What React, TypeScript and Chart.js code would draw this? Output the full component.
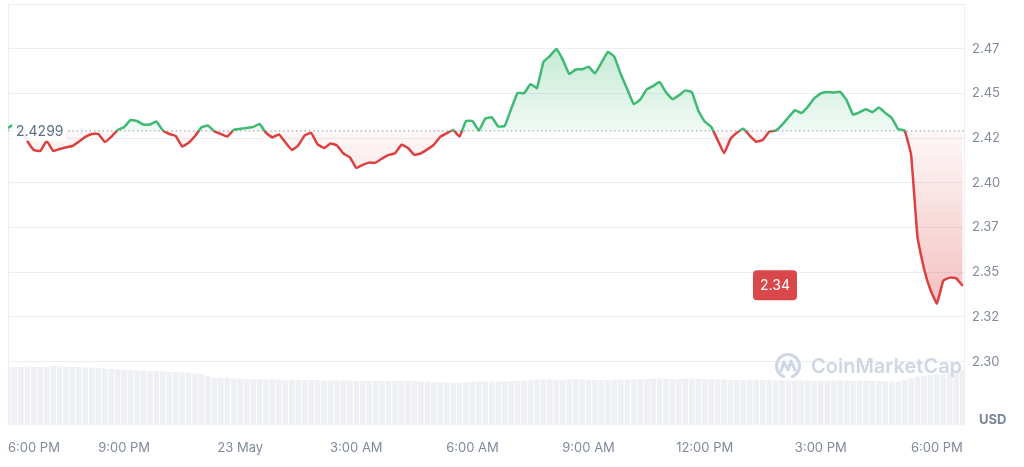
import React, { useEffect, useRef } from 'react';
import { Chart, registerables } from 'chart.js';

Chart.register(...registerables);

// Price samples every 10 minutes starting 6:00 PM (22 May)
const prices = [
  2.4315, 2.4337, 2.4311, 2.4242, 2.4192, 2.4186, 2.4242, 2.4186, 2.4197, 2.4207,
  2.4214, 2.4239, 2.4265, 2.4281, 2.4281, 2.4237, 2.4265, 2.4304, 2.4319, 2.4360,
  2.4354, 2.4334, 2.4334, 2.4351, 2.4301, 2.4281, 2.4270, 2.4211, 2.4232, 2.4270,
  2.4319, 2.4328, 2.4296, 2.4281, 2.4267, 2.4305, 2.4310, 2.4315, 2.4320, 2.4337,
  2.4287, 2.4262, 2.4279, 2.4234, 2.4192, 2.4217, 2.4273, 2.4287, 2.4223, 2.4203,
  2.4228, 2.4217, 2.4172, 2.4150, 2.4091, 2.4109, 2.4121, 2.4121, 2.4144, 2.4164,
  2.4173, 2.4221, 2.4203, 2.4164, 2.4173, 2.4195, 2.4221, 2.4265, 2.4285, 2.4304,
  2.4267, 2.4354, 2.4354, 2.4301, 2.4368, 2.4374, 2.4323, 2.4326, 2.4421, 2.4511,
  2.4509, 2.4560, 2.4538, 2.4684, 2.4717, 2.4756, 2.4697, 2.4617, 2.4642, 2.4643,
  2.4658, 2.4620, 2.4680, 2.4740, 2.4713, 2.4615, 2.4531, 2.4449, 2.4473, 2.4530,
  2.4549, 2.4572, 2.4514, 2.4476, 2.4497, 2.4525, 2.4516, 2.4413, 2.4351, 2.4322,
  2.4248, 2.4174, 2.4253, 2.4288, 2.4311, 2.4271, 2.4238, 2.4248, 2.4294, 2.4300,
  2.4332, 2.4375, 2.4414, 2.4398, 2.4434, 2.4482, 2.4508, 2.4516, 2.4513, 2.4517,
  2.4471, 2.4389, 2.4403, 2.4419, 2.4403, 2.4429, 2.4399, 2.4371, 2.4308, 2.4301,
  2.4164, 2.3700, 2.3528, 2.3409, 2.3334, 2.3462, 2.3478, 2.3474, 2.3432,
];

// 24h volume (millions USD), same timestamps
const volumes = [
  116, 116, 116, 117, 116, 116, 117, 118, 117, 117,
  116, 116, 115, 115, 114, 113, 112, 111, 110, 110,
  109, 109, 108, 108, 107, 106, 106, 105, 105, 103,
  102, 98, 95, 94, 94, 93, 93, 92, 92, 92,
  91, 91, 91, 90, 90, 90, 90, 90, 90, 89,
  89, 89, 89, 89, 88, 88, 88, 88, 88, 88,
  88, 88, 88, 88, 87, 87, 86, 85, 85, 84,
  84, 86, 87, 87, 87, 87, 87, 87, 88, 88,
  89, 90, 91, 91, 91, 90, 90, 91, 92, 91,
  90, 90, 90, 90, 91, 91, 91, 92, 92, 92,
  93, 93, 93, 92, 92, 93, 93, 93, 92, 92,
  91, 91, 90, 90, 90, 91, 90, 90, 90, 89,
  90, 89, 89, 89, 89, 88, 89, 89, 89, 89,
  89, 88, 89, 89, 88, 88, 87, 87, 87, 90,
  94, 97, 99, 100, 102, 103, 103, 108, 110,
];

const sampleStepMinutes = 10;
const pointMinutes = prices.map((_, i) => i * sampleStepMinutes);

const openPrice = 2.4299;
const openPriceLabel = '2.4299';
const lastPriceLabel = '2.34';

const xTickMinutes = [0, 180, 360, 540, 720, 900, 1080, 1260, 1440, 1482];
const xTickLabels = ['6:00 PM', '9:00 PM', '23 May', '3:00 AM', '6:00 AM', '9:00 AM', '12:00 PM', '3:00 PM', '6:00 PM', ''];

const yTickValues = [2.3008, 2.3258, 2.3508, 2.3758, 2.4008, 2.4258, 2.4508, 2.4758, 2.5008];
const yTickLabels = ['2.30', '2.32', '2.35', '2.37', '2.40', '2.42', '2.45', '2.47', ''];

const Y_MIN = 2.2654;
const Y_MAX = 2.5008;
const X_MAX = 1482;

const GREEN = 'rgb(62,186,116)';
const RED = 'rgb(220,64,64)';
const GRID = '#eceef2';
const TICK = '#808a9d';
const FONT = 'Inter, "Noto Sans", sans-serif';

function lineGradient(ctx: any) {
  const chart = ctx.chart;
  const { chartArea, scales } = chart;
  if (!chartArea) return GREEN;
  const base = scales.y.getPixelForValue(openPrice);
  const g = chart.ctx.createLinearGradient(0, chartArea.top, 0, chartArea.bottom);
  const f = Math.min(Math.max((base - chartArea.top) / (chartArea.bottom - chartArea.top), 0), 1);
  g.addColorStop(0, GREEN);
  g.addColorStop(f, GREEN);
  g.addColorStop(f, RED);
  g.addColorStop(1, RED);
  return g;
}

function fillGradient(ctx: any) {
  const chart = ctx.chart;
  const { chartArea, scales } = chart;
  if (!chartArea) return 'rgba(0,0,0,0)';
  const top = scales.y.getPixelForValue(Math.max(...prices));
  const bottom = scales.y.getPixelForValue(Math.min(...prices));
  const base = scales.y.getPixelForValue(openPrice);
  const g = chart.ctx.createLinearGradient(0, top, 0, bottom);
  const f = Math.min(Math.max((base - top) / (bottom - top), 0), 1);
  g.addColorStop(0, 'rgba(62,186,116,0.30)');
  g.addColorStop(f, 'rgba(62,186,116,0.07)');
  g.addColorStop(f, 'rgba(220,64,64,0.04)');
  g.addColorStop(1, 'rgba(220,64,64,0.32)');
  return g;
}

const baselinePlugin = {
  id: 'baselineDots',
  beforeDatasetsDraw(chart: any) {
    const { ctx, chartArea, scales } = chart;
    const y = scales.y.getPixelForValue(openPrice);
    ctx.save();
    ctx.strokeStyle = '#9aa1ae';
    ctx.lineWidth = 1.2;
    ctx.setLineDash([1.3, 3]);
    ctx.beginPath();
    ctx.moveTo(chartArea.left, y);
    ctx.lineTo(chartArea.right, y);
    ctx.stroke();
    ctx.restore();
  },
};

const overlayPlugin = {
  id: 'overlay',
  afterDatasetsDraw(chart: any) {
    const { ctx, chartArea, scales } = chart;
    const yBase = scales.y.getPixelForValue(openPrice);

    // open price label
    ctx.save();
    ctx.fillStyle = 'rgba(255,255,255,0.9)';
    ctx.fillRect(chartArea.left + 4, yBase - 11, 54, 21);
    ctx.fillStyle = '#616e85';
    ctx.font = `14px ${FONT}`;
    ctx.textAlign = 'left';
    ctx.textBaseline = 'middle';
    ctx.fillText(openPriceLabel, chartArea.left + 8, yBase + 0.5);
    ctx.restore();

    // watermark
    ctx.save();
    ctx.strokeStyle = '#cfd6e4';
    ctx.lineWidth = 3;
    ctx.lineCap = 'round';
    ctx.lineJoin = 'round';
    const cx = 788, cy = 366;
    ctx.beginPath();
    ctx.arc(cx, cy, 11.5, Math.PI * 0.62, Math.PI * 2.38);
    ctx.stroke();
    ctx.beginPath();
    ctx.moveTo(cx - 7, cy + 5);
    ctx.lineTo(cx - 4, cy - 4);
    ctx.lineTo(cx, cy + 4);
    ctx.lineTo(cx + 3, cy - 5);
    ctx.lineTo(cx + 7, cy + 4);
    ctx.stroke();
    ctx.fillStyle = '#cfd6e4';
    ctx.font = `600 20px ${FONT}`;
    ctx.textAlign = 'left';
    ctx.textBaseline = 'middle';
    ctx.fillText('CoinMarketCap', 811, cy + 1);
    ctx.restore();

    // last price badge
    const last = prices[prices.length - 1];
    const yLast = scales.y.getPixelForValue(last);
    const bx = 753, bw = 44, bh = 30;
    ctx.save();
    ctx.fillStyle = '#d9474a';
    ctx.beginPath();
    (ctx as any).roundRect(bx, yLast - bh / 2 - 0.5, bw, bh, 4);
    ctx.fill();
    ctx.fillStyle = '#ffffff';
    ctx.font = `14px ${FONT}`;
    ctx.textAlign = 'center';
    ctx.textBaseline = 'middle';
    ctx.fillText(lastPriceLabel, bx + bw / 2, yLast);
    ctx.restore();

    // currency label
    ctx.save();
    ctx.fillStyle = '#7a8497';
    ctx.font = `bold 13px ${FONT}`;
    ctx.textAlign = 'left';
    ctx.textBaseline = 'middle';
    ctx.fillText('USD', chartArea.right + 15, chartArea.bottom - 5);
    ctx.restore();
  },
};

export default function App() {
  const canvasRef = useRef<HTMLCanvasElement | null>(null);

  useEffect(() => {
    const canvas = canvasRef.current;
    if (!canvas) return;
    const chart = new Chart(canvas, {
      type: 'line',
      data: {
        datasets: [
          {
            type: 'line',
            label: 'Price',
            data: prices.map((p, i) => ({ x: pointMinutes[i], y: p })),
            yAxisID: 'y',
            borderColor: lineGradient as any,
            backgroundColor: fillGradient as any,
            borderWidth: 2.5,
            borderJoinStyle: 'round',
            pointRadius: 0,
            tension: 0.1,
            fill: { target: { value: openPrice } } as any,
            order: 0,
          },
          {
            type: 'bar',
            label: 'Volume',
            data: volumes.map((v, i) => ({ x: pointMinutes[i], y: v })),
            yAxisID: 'y2',
            backgroundColor: '#eef0f4',
            barPercentage: 0.88,
            categoryPercentage: 1,
            order: 2,
          } as any,
        ],
      },
      options: {
        animation: false,
        responsive: false,
        devicePixelRatio: 1,
        layout: { padding: { left: 8, top: 4, right: 0, bottom: 0 } },
        plugins: {
          legend: { display: false },
          tooltip: { enabled: false },
        },
        scales: {
          x: {
            type: 'linear',
            min: 0,
            max: X_MAX,
            offset: false,
            position: 'bottom',
            afterBuildTicks: (scale: any) => {
              scale.ticks = xTickMinutes.map((value) => ({ value }));
            },
            afterFit: (scale: any) => {
              scale.height = 42;
              scale.paddingLeft = 0;
              scale.paddingRight = 0;
            },
            grid: {
              display: true,
              offset: false,
              drawTicks: false,
              color: (c: any) => (c.index === 0 ? GRID : 'rgba(0,0,0,0)'),
            },
            border: { display: false },
            ticks: {
              align: 'inner',
              autoSkip: false,
              maxRotation: 0,
              padding: 15,
              color: TICK,
              font: { family: FONT, size: 13 },
              callback: (_v: any, i: number) => xTickLabels[i],
            },
          },
          y: {
            type: 'linear',
            position: 'right',
            min: Y_MIN,
            max: Y_MAX,
            afterBuildTicks: (scale: any) => {
              scale.ticks = yTickValues.map((value) => ({ value }));
            },
            afterFit: (scale: any) => {
              scale.width = 60;
              scale.paddingTop = 0;
              scale.paddingBottom = 0;
            },
            grid: { color: GRID, drawTicks: false },
            border: { display: true, color: GRID },
            ticks: {
              padding: 8,
              color: TICK,
              font: { family: FONT, size: 13 },
              callback: (_v: any, i: number) => yTickLabels[i],
            },
          },
          y2: {
            type: 'linear',
            display: false,
            min: 0,
            max: 842,
          },
        },
      },
      plugins: [baselinePlugin, overlayPlugin],
    } as any);
    return () => chart.destroy();
  }, []);

  return (
    <div style={{ position: 'fixed', left: 0, top: 0, width: 1024, height: 467, background: '#fff' }}>
      <canvas ref={canvasRef} width={1024} height={467} style={{ width: 1024, height: 467, display: 'block' }} />
    </div>
  );
}
